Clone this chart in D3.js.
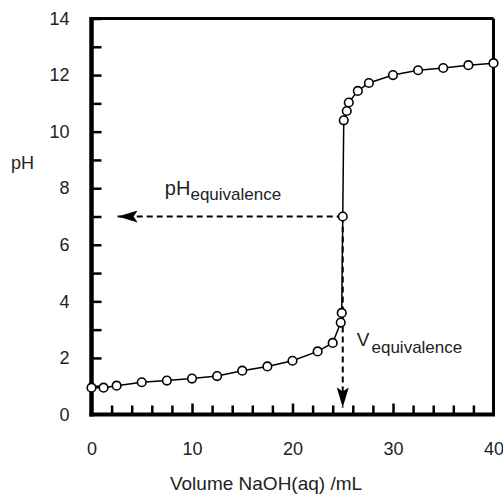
<!DOCTYPE html>
<html><head><meta charset="utf-8">
<script src="https://cdn.jsdelivr.net/npm/d3@7"></script>
<style>
html,body{margin:0;padding:0;background:#fff;}
text{font-family:"Liberation Sans",Arial,sans-serif;fill:#222;}
</style></head>
<body>
<svg id="chart" width="503" height="496"></svg>
<script>
// Data
const volume = [0, 1.2, 2.5, 5, 7.5, 10, 12.5, 15, 17.5, 20, 22.5, 24, 24.8, 24.9, 25, 25.1, 25.4, 25.6, 26.5, 27.6, 30, 32.5, 35, 37.5, 40];
const pH     = [0.95, 0.95, 1.02, 1.14, 1.2, 1.27, 1.36, 1.55, 1.7, 1.9, 2.23, 2.53, 3.25, 3.59, 7.0, 10.4, 10.73, 11.03, 11.44, 11.72, 12.0, 12.17, 12.25, 12.35, 12.42];
const xTickLabels = [0, 10, 20, 30, 40];
const yTickLabels = [0, 2, 4, 6, 8, 10, 12, 14];
const equivalence = {volume: 25, pH: 7};
const arrowEnds = {volume: 2.6, pH: 0.25};

const svg = d3.select("#chart");
const x = d3.scaleLinear().domain([0, 40]).range([91.5, 493.5]);
const y = d3.scaleLinear().domain([0, 14]).range([414.5, 18.5]);

// defs: arrow heads
const defs = svg.append("defs");
defs.append("marker").attr("id","arrow").attr("viewBox","0 0 20 12")
  .attr("refX",20).attr("refY",6).attr("markerWidth",20).attr("markerHeight",12)
  .attr("markerUnits","userSpaceOnUse").attr("orient","auto")
  .append("path").attr("d","M0,0 L20,6 L0,12 L4,6 Z").attr("fill","#000");

// frame: top & right
svg.append("line").attr("x1",x(0)).attr("x2",x(40)).attr("y1",y(14)).attr("y2",y(14))
  .attr("stroke","#000").attr("stroke-width",3);
svg.append("line").attr("x1",x(40)).attr("x2",x(40)).attr("y1",y(14)).attr("y2",y(0))
  .attr("stroke","#000").attr("stroke-width",3);

// x axis (ticks inward)
const xMinor = d3.range(2, 40, 2);
const xAxis = d3.axisBottom(x).tickValues(xMinor).tickSizeInner(0).tickSizeOuter(0).tickFormat("");
const gx = svg.append("g").attr("transform",`translate(0,${y(0)})`).call(xAxis);
gx.select(".domain").remove();
gx.selectAll(".tick line").remove();
gx.selectAll(".tick").append("line")
  .attr("y1",0).attr("y2",d => d % 10 === 0 ? -11 : -9)
  .attr("stroke","#000").attr("stroke-width",2.5);
svg.append("line").attr("x1",x(0)-2).attr("x2",x(40)+1.5).attr("y1",y(0)).attr("y2",y(0))
  .attr("stroke","#000").attr("stroke-width",4);
const gxl = svg.append("g").attr("transform",`translate(0,${y(0)})`)
  .call(d3.axisBottom(x).tickValues(xTickLabels).tickSize(0).tickPadding(28).tickFormat(d3.format("d")));
gxl.select(".domain").remove();
gxl.selectAll("text").style("font-size","18px").style("font-family","Liberation Sans, Arial, sans-serif").attr("fill","#222");

// y axis
const yMinor = d3.range(1, 15, 1);
const gy = svg.append("g").attr("transform",`translate(${x(0)},0)`)
  .call(d3.axisLeft(y).tickValues(yMinor).tickSize(0).tickFormat(""));
gy.select(".domain").remove();
gy.selectAll(".tick").append("line").attr("x1",0).attr("x2",10)
  .attr("stroke","#000").attr("stroke-width",2.5);
svg.append("line").attr("x1",x(0)).attr("x2",x(0)).attr("y1",y(14)-1.5).attr("y2",y(0)+2)
  .attr("stroke","#000").attr("stroke-width",4.5);
const gyl = svg.append("g").attr("transform",`translate(${x(0)},0)`)
  .call(d3.axisLeft(y).tickValues(yTickLabels).tickSize(0).tickPadding(22).tickFormat(d3.format("d")));
gyl.select(".domain").remove();
gyl.selectAll("text").style("font-size","18px").style("font-family","Liberation Sans, Arial, sans-serif").attr("fill","#222");

// axis titles
svg.append("text").attr("x",266).attr("y",490).attr("text-anchor","middle")
  .style("font-size","19px").text("Volume NaOH(aq) /mL");
svg.append("text").attr("x",11).attr("y",169).style("font-size","18px").text("pH");

// dashed arrows
svg.append("line").attr("x1",x(equivalence.volume)).attr("y1",y(equivalence.pH))
  .attr("x2",x(arrowEnds.volume)).attr("y2",y(equivalence.pH))
  .attr("stroke","#000").attr("stroke-width",2).attr("stroke-dasharray","6,4")
  .attr("marker-end","url(#arrow)");
svg.append("line").attr("x1",x(equivalence.volume)).attr("y1",y(equivalence.pH))
  .attr("x2",x(equivalence.volume)).attr("y2",y(arrowEnds.pH))
  .attr("stroke","#000").attr("stroke-width",2).attr("stroke-dasharray","6,4")
  .attr("marker-end","url(#arrow)");

// curve
const line = d3.line().x((d,i) => x(volume[i])).y(d => y(d));
svg.append("path").datum(pH).attr("d",line).attr("fill","none")
  .attr("stroke","#000").attr("stroke-width",1.5);
svg.selectAll("circle.pt").data(pH).join("circle").attr("class","pt")
  .attr("cx",(d,i) => x(volume[i])).attr("cy",d => y(d)).attr("r",4.3)
  .attr("fill","#fff").attr("stroke","#000").attr("stroke-width",1.6);

// annotations
const t1 = svg.append("text").attr("x",x(7.3)).attr("y",y(7.75)).style("font-size","20px");
t1.append("tspan").text("pH");
t1.append("tspan").attr("dy",5).style("font-size","17px").text("equivalence");
const t2 = svg.append("text").attr("x",x(26.4)).attr("y",y(2.42)).style("font-size","19px");
t2.append("tspan").text("V");
t2.append("tspan").attr("dy",7).attr("dx",2).style("font-size","17px").text("equivalence");
</script>
</body></html>
